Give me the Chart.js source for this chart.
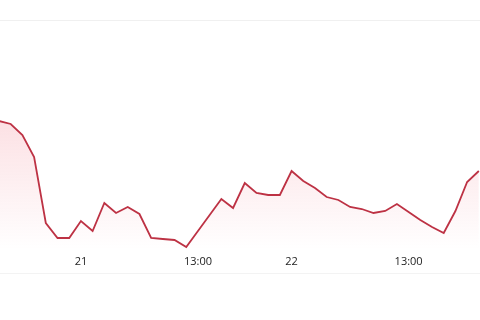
<!DOCTYPE html>
<html>
<head>
<meta charset="utf-8">
<script src="https://cdn.jsdelivr.net/npm/chart.js@4"></script>
<style>
  html, body { margin: 0; padding: 0; background: #fff; }
  #frame {
    position: absolute; left: 0; top: 20px; width: 480px; height: 252px;
    border-top: 1px solid #f0f0f0; border-bottom: 1px solid #f3f3f3;
  }
  #wrap { position: absolute; left: 0; top: 0; width: 480px; height: 320px; }
</style>
</head>
<body>
<div id="frame"></div>
<div id="wrap"><canvas id="chart"></canvas></div>
<script>
// values (arbitrary units, one point per step)
const values = [129, 126, 115, 93, 27, 12, 12, 29, 19, 47, 37, 43, 36, 12, 11, 10, 3, 19, 35, 51,
                42, 67, 57, 55, 55, 79, 69, 62, 53, 50, 43, 41, 37, 39, 46, 38, 30, 23, 17, 39, 68, 79];
const tickIdx = [7, 17, 25, 35];
const tickText = ['21', '13:00', '22', '13:00'];

const points = values.map((v, i) => ({ x: i, y: v }));

const ctx = document.getElementById('chart').getContext('2d');
new Chart(ctx, {
    type: 'line',
    data: {
        datasets: [{
            data: points,
            borderColor: '#bd3244',
            borderWidth: 1.8,
            pointRadius: 0,
            tension: 0,
            fill: 'origin',
            backgroundColor: (c) => {
                const area = c.chart.chartArea;
                if (!area) return 'rgba(230,60,80,0.15)';
                const g = c.chart.ctx.createLinearGradient(0, area.top, 0, area.bottom);
                g.addColorStop(0, 'rgba(236,70,90,0.38)');
                g.addColorStop(0.45, 'rgba(236,70,90,0.16)');
                g.addColorStop(1, 'rgba(236,70,90,0)');
                return g;
            }
        }]
    },
    options: {
        responsive: true,
        maintainAspectRatio: false,
        animation: false,
        layout: { padding: { top: 21, left: 0, right: 0, bottom: 0 } },
        plugins: { legend: { display: false }, tooltip: { enabled: false } },
        scales: {
            x: {
                type: 'linear',
                min: 0.085,
                max: 41.1,
                grid: { display: false, drawTicks: false },
                border: { display: false },
                afterBuildTicks: (scale) => {
                    scale.ticks = tickIdx.map(v => ({ value: v }));
                },
                afterFit: (scale) => { scale.height = 70; },
                ticks: {
                    autoSkip: false,
                    maxRotation: 0,
                    padding: 5,
                    color: '#222',
                    font: { family: 'Open Sans', size: 11 },
                    callback: (v) => tickText[tickIdx.indexOf(v)]
                }
            },
            y: {
                display: false,
                min: 0,
                max: 229
            }
        }
    }
});
</script>
</body>
</html>
